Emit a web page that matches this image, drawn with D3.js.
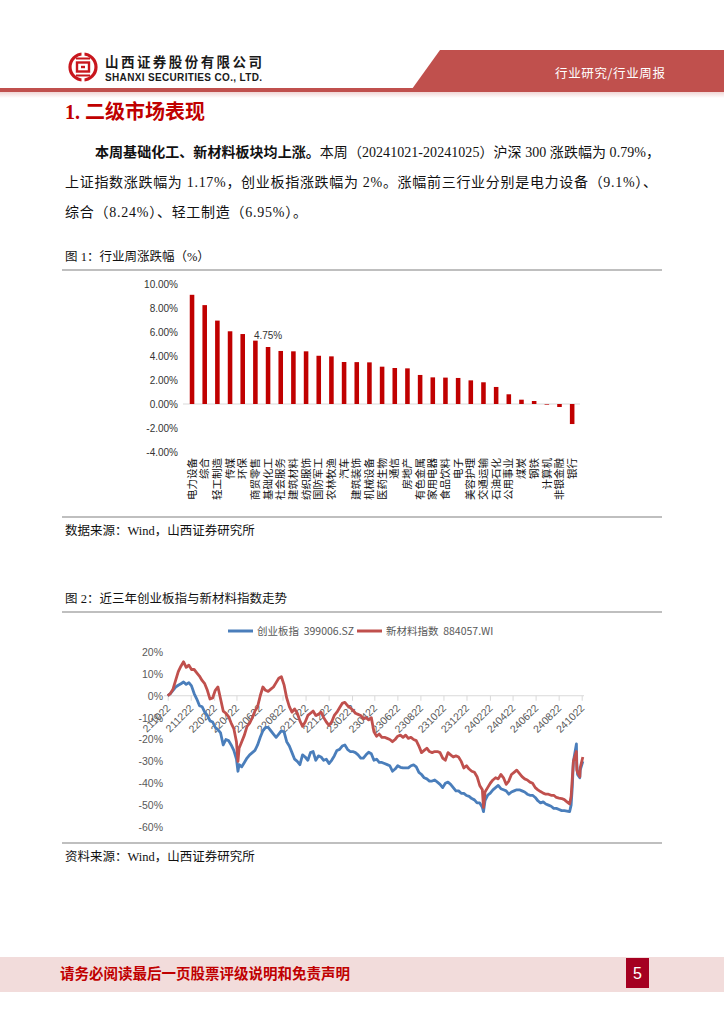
<!DOCTYPE html>
<html><head><meta charset="utf-8">
<script src="https://cdn.jsdelivr.net/npm/d3@7"></script>
<style>
body{margin:0;background:#fff;}
svg{display:block;}
</style></head><body>
<svg id="page" width="724" height="1024"></svg>
<script>
// ---------- DATA ----------
const barCategories = ["电力设备","综合","轻工制造","传媒","环保","商贸零售","基础化工","社会服务","建筑材料","纺织服饰","国防军工","农林牧渔","汽车","建筑装饰","机械设备","医药生物","通信","房地产","有色金属","家用电器","食品饮料","电子","美容护理","交通运输","石油石化","公用事业","煤炭","钢铁","计算机","非银金融","银行"];
const barValues = [9.10,8.24,6.95,6.06,5.83,5.28,4.75,4.42,4.39,4.39,4.02,3.97,3.50,3.49,3.47,3.11,3.00,2.97,2.42,2.22,2.20,2.17,1.97,1.81,1.42,0.81,0.36,0.25,-0.05,-0.25,-1.67];
const barLabelled = "基础化工";
const barYTicks = [10,8,6,4,2,0,-2,-4];

const lineDates = ["2021-10-22","2021-10-29","2021-11-05","2021-11-12","2021-11-19","2021-11-26","2021-12-03","2021-12-10","2021-12-17","2021-12-24","2021-12-31",
"2022-01-07","2022-01-14","2022-01-21","2022-01-28","2022-02-04","2022-02-11","2022-02-18","2022-02-25","2022-03-04","2022-03-11","2022-03-18","2022-03-25","2022-04-01","2022-04-08","2022-04-15","2022-04-22","2022-04-26","2022-04-29",
"2022-05-06","2022-05-13","2022-05-20","2022-05-27","2022-06-03","2022-06-10","2022-06-17","2022-06-24","2022-07-01","2022-07-08","2022-07-15","2022-07-22","2022-07-29","2022-08-05","2022-08-12","2022-08-19","2022-08-26","2022-09-02","2022-09-09","2022-09-16","2022-09-23","2022-09-30","2022-10-07","2022-10-14","2022-10-21","2022-10-28","2022-11-04","2022-11-11","2022-11-18","2022-11-25","2022-12-02","2022-12-09","2022-12-16","2022-12-23","2022-12-30",
"2023-01-06","2023-01-13","2023-01-20","2023-01-27","2023-02-03","2023-02-10","2023-02-17","2023-02-24","2023-03-03","2023-03-10","2023-03-17","2023-03-24","2023-03-31","2023-04-07","2023-04-14","2023-04-21","2023-04-28","2023-05-05","2023-05-12","2023-05-19","2023-05-26","2023-06-02","2023-06-09","2023-06-16","2023-06-23","2023-06-30","2023-07-07","2023-07-14","2023-07-21","2023-07-28","2023-08-04","2023-08-11","2023-08-18","2023-08-25","2023-09-01","2023-09-08","2023-09-15","2023-09-22","2023-09-29","2023-10-06","2023-10-13","2023-10-20","2023-10-27","2023-11-03","2023-11-10","2023-11-17","2023-11-24","2023-12-01","2023-12-08","2023-12-15","2023-12-22","2023-12-29",
"2024-01-05","2024-01-12","2024-01-19","2024-01-26","2024-02-02","2024-02-05","2024-02-09","2024-02-16","2024-02-23","2024-03-01","2024-03-08","2024-03-15","2024-03-22","2024-03-29","2024-04-05","2024-04-12","2024-04-19","2024-04-26","2024-05-03","2024-05-10","2024-05-17","2024-05-24","2024-05-31","2024-06-07","2024-06-14","2024-06-21","2024-06-28","2024-07-05","2024-07-12","2024-07-19","2024-07-26","2024-08-02","2024-08-09","2024-08-16","2024-08-23","2024-08-30","2024-09-06","2024-09-13","2024-09-20","2024-09-24","2024-09-27","2024-09-30","2024-10-08","2024-10-09","2024-10-11","2024-10-17","2024-10-18","2024-10-25"];

const chinextValues = [0,1,2.5,4,4.8,5.5,6.3,5.2,6.0,4.5,1.0,
-1.5,-4.5,-5,-7.5,-9,-11.5,-12,-14.5,-15.5,-17,-22.5,-20,-20.5,-22.5,-25,-29,-34.5,-31.5,
-32.5,-30.5,-28.5,-27,-26,-25,-22.5,-19,-16,-14.5,-14.5,-16,-17.5,-19,-17.5,-16,-16.5,-21,-23,-26,-29,-30,-31.5,-27,-28,-29.5,-26,-25.5,-29.5,-27.5,-28,-29.5,-29,-31,-29.5,
-27.5,-25,-24.5,-23,-22.5,-24.5,-25.5,-25.5,-26,-27,-28.5,-28.5,-27,-25.8,-26.5,-29.5,-29,-30.5,-30.5,-31,-31.5,-32,-34.5,-33.5,-32,-32.7,-33,-33,-33,-32,-31.6,-32.5,-35,-36,-37.5,-38,-39,-39,-38.5,-39.5,-40.5,-42,-40,-39.5,-40.5,-42,-43.5,-43.5,-44.6,-44.6,-45.6,-46,
-47,-47.6,-49,-49,-51,-53,-48,-45.5,-44.5,-43,-42,-41,-42.5,-43,-43.5,-45,-44,-43.5,-43,-43,-43.5,-44,-45,-45.5,-45.5,-46.5,-48,-49,-48.5,-49.5,-50,-50.5,-51.5,-51.5,-52,-52.5,-52.5,-52.7,-53,-50,-42,-30,-22,-31,-36,-37.5,-34,-30];

const newMaterialValues = [0,1,3,7,11,13.5,15.5,13,14,12,12,
10.5,9,7,5.5,2.5,-1.5,-1,2.5,4,-1.5,-7,-8,-9.5,-12.5,-15,-21,-30,-24,
-21,-18,-14,-12.5,-10,-7,-5,0,4,2.5,2,3,4,6,8,8.7,5,-1,-5,-7.5,-6,-8,-11.5,-14,-12,-9,-8,-7,-9,-8.5,-7.5,-10,-12,-13.5,-12,
-9,-7.5,-5.5,-3.5,-3,-4.5,-5.5,-6.5,-8,-8.5,-9,-10.5,-10,-11,-10,-16.5,-18.5,-17.5,-19,-19,-19.5,-20,-21,-20,-18.5,-18,-19,-18,-19.5,-19,-20,-20.5,-23,-26,-25,-24,-25.5,-26,-25.5,-25.5,-26,-28.5,-29.5,-26,-27,-28,-27.5,-28,-30,-33,-32,-33.5,
-34.5,-35,-37,-41,-43,-51,-44,-42,-40,-38.5,-37.5,-38,-36,-37.5,-40.5,-39,-36,-35,-34,-35.5,-37,-38,-38.5,-39.5,-40,-42,-43,-43.8,-44.5,-45,-45,-45.5,-45.5,-46.5,-46.8,-47,-47.5,-48.5,-49.5,-46,-38,-30,-25.5,-34,-35,-37,-33,-28];

const lineYTicks = [20,10,0,-10,-20,-30,-40,-50,-60];
const lineXTickLabels = ["211022","211222","220222","220422","220622","220822","221022","221222","230222","230422","230622","230822","231022","231222","240222","240422","240622","240822","241022"];
const seriesNames = ["创业板指  399006.SZ","新材料指数  884057.WI"];
const seriesColors = ["#4a7ebb","#c0504d"];

const paragraphLines = [
  {x:95, w:565, bold:"本周基础化工、新材料板块均上涨。", rest:"本周（20241021-20241025）沪深 300 涨跌幅为 0.79%，"},
  {x:65, w:592, bold:"", rest:"上证指数涨跌幅为 1.17%，创业板指涨跌幅为 2%。涨幅前三行业分别是电力设备（9.1%）、"},
  {x:65, w:242, bold:"", rest:"综合（8.24%）、轻工制造（6.95%）。"}
];

// ---------- PAGE ----------
const svg = d3.select("#page");
const serif = "'Liberation Serif','Times New Roman','Noto Sans CJK SC',serif";
const sans = "Arial,'Liberation Sans','Noto Sans CJK SC',sans-serif";
const cjk = "'Noto Sans CJK SC',sans-serif";

// header
const defs = svg.append("defs");
const grad = defs.append("linearGradient").attr("id","fade").attr("x1",0).attr("y1",0).attr("x2",0).attr("y2",1);
grad.append("stop").attr("offset","0%").attr("stop-color","#f0d6d5");
grad.append("stop").attr("offset","100%").attr("stop-color","#ffffff");

svg.append("polygon").attr("points","440,50 724,50 724,89 412,89").attr("fill","#c0504d");
svg.append("rect").attr("x",0).attr("y",88).attr("width",724).attr("height",4).attr("fill","#c0504d");
svg.append("rect").attr("x",0).attr("y",92).attr("width",724).attr("height",6).attr("fill","url(#fade)");
svg.append("text").attr("x",555).attr("y",78).attr("font-family",cjk).attr("font-size",12.5)
  .attr("fill","#fff").attr("textLength",110).text("行业研究/行业周报");

// logo
const logo = svg.append("g").attr("transform","translate(83,67)");
logo.append("circle").attr("r",13).attr("fill","none").attr("stroke","#c8161d").attr("stroke-width",3.2);
logo.append("rect").attr("x",-6).attr("y",-4.5).attr("width",12).attr("height",9).attr("fill","none").attr("stroke","#c8161d").attr("stroke-width",2.4);
logo.append("rect").attr("x",-2).attr("y",-1.2).attr("width",4).attr("height",2.4).attr("fill","#c8161d");
logo.append("line").attr("x1",-7).attr("x2",7).attr("y1",-8.5).attr("y2",-8.5).attr("stroke","#c8161d").attr("stroke-width",2);
logo.append("line").attr("x1",-7).attr("x2",7).attr("y1",8.5).attr("y2",8.5).attr("stroke","#c8161d").attr("stroke-width",2);
logo.append("rect").attr("x",-1.5).attr("y",-16).attr("width",3).attr("height",5).attr("fill","#fff");
logo.append("rect").attr("x",-1.5).attr("y",11).attr("width",3).attr("height",5).attr("fill","#fff");

svg.append("text").attr("x",105).attr("y",67).attr("font-family",cjk).attr("font-weight","bold")
  .attr("font-size",13.5).attr("fill","#1a1a1a").attr("textLength",157).text("山西证券股份有限公司");
svg.append("text").attr("x",105).attr("y",81).attr("font-family",sans).attr("font-weight","bold")
  .attr("font-size",10).attr("fill","#1a1a1a").attr("textLength",157).text("SHANXI SECURITIES CO., LTD.");

// section title
svg.append("text").attr("x",65).attr("y",119).attr("font-family",serif).attr("font-weight","bold")
  .attr("font-size",20).attr("fill","#c00000").text("1. 二级市场表现");

// paragraph
paragraphLines.forEach((ln,i)=>{
  const t = svg.append("text").attr("x",ln.x).attr("y",157+i*30).attr("font-family",serif)
    .attr("font-size",14).attr("fill","#111").attr("textLength",ln.w).attr("lengthAdjust","spacing");
  if (ln.bold) t.append("tspan").attr("font-weight","bold").text(ln.bold);
  t.append("tspan").text(ln.rest);
});

// figure frames
function figureFrame(title, top, bottom, source){
  svg.append("text").attr("x",65).attr("y",top-9).attr("font-family",serif).attr("font-size",12.5).attr("fill","#111").text(title);
  svg.append("line").attr("x1",62).attr("x2",662).attr("y1",top).attr("y2",top).attr("stroke","#808080").attr("stroke-width",1.2);
  svg.append("line").attr("x1",62).attr("x2",662).attr("y1",bottom).attr("y2",bottom).attr("stroke","#808080").attr("stroke-width",1.2);
  svg.append("text").attr("x",65).attr("y",bottom+18).attr("font-family",serif).attr("font-size",12.5).attr("fill","#111").text(source);
}
figureFrame("图 1：行业周涨跌幅（%）", 270, 517, "数据来源：Wind，山西证券研究所");
figureFrame("图 2：近三年创业板指与新材料指数走势", 612, 843, "资料来源：Wind，山西证券研究所");

// ---------- BAR CHART ----------
const xb = d3.scaleBand().domain(barCategories).range([185.7, 578.5]).paddingInner(0.64).paddingOuter(0.32);
const yb = d3.scaleLinear().domain([-4,10]).range([452,284]);
const gb = svg.append("g");
gb.append("line").attr("x1",183).attr("x2",580).attr("y1",yb(0)).attr("y2",yb(0)).attr("stroke","#d9d9d9").attr("stroke-width",1);
gb.selectAll("rect.bar").data(barCategories).join("rect").attr("class","bar")
  .attr("x",d=>xb(d)).attr("width",xb.bandwidth())
  .attr("y",(d,i)=>yb(Math.max(0,barValues[i])))
  .attr("height",(d,i)=>Math.abs(yb(barValues[i])-yb(0)))
  .attr("fill","#c00000");
const yAxisB = d3.axisLeft(yb).tickValues(barYTicks).tickSize(0).tickPadding(0).tickFormat(d=>d.toFixed(2)+"%");
const gya = gb.append("g").attr("transform","translate(178,0)").call(yAxisB);
gya.select(".domain").remove();
gya.selectAll("text").attr("font-family",sans).attr("font-size",10).attr("fill","#333");
const xAxisB = d3.axisBottom(xb).tickSize(0).tickPadding(0);
const gxa = gb.append("g").attr("transform","translate(0,0)").call(xAxisB);
gxa.select(".domain").remove();
gxa.selectAll(".tick text").attr("transform","translate(0,458) rotate(-90)").attr("text-anchor","end")
  .attr("x",0).attr("y",0).attr("dy","0.35em").attr("font-family",cjk).attr("font-size",10.5).attr("fill","#111");
const li = barCategories.indexOf(barLabelled);
gb.append("text").attr("x",xb(barLabelled)+xb.bandwidth()/2).attr("y",yb(barValues[li])-8)
  .attr("text-anchor","middle").attr("font-family",sans).attr("font-size",10).attr("fill","#333")
  .text(barValues[li].toFixed(2)+"%");

// ---------- LINE CHART ----------
const parse = d3.timeParse("%Y-%m-%d");
const parseTick = d3.timeParse("%y%m%d");
const dates = lineDates.map(parse);
const xl = d3.scaleTime().domain([parse("2021-10-22"), parse("2024-10-22")]).range([167.7,581.7]);
const yl = d3.scaleLinear().domain([-60,20]).range([827,652]);
const gl = svg.append("g");

gl.append("line").attr("x1",164).attr("x2",584).attr("y1",yl(0)).attr("y2",yl(0)).attr("stroke","#d9d9d9").attr("stroke-width",1);
const tickDates = lineXTickLabels.map(parseTick);
const xAxisL = d3.axisBottom(xl).tickValues(tickDates).tickSize(5).tickFormat(d3.timeFormat("%y%m%d"));
const gxl = gl.append("g").attr("transform",`translate(0,${yl(0)})`).call(xAxisL);
gxl.select(".domain").remove();
gxl.selectAll(".tick line").attr("stroke","#d9d9d9");
gxl.selectAll(".tick text").attr("text-anchor","end").attr("font-family",sans).attr("font-size",10.5)
  .attr("fill","#595959").attr("y",0).attr("dy",0).attr("transform","translate(3,13) rotate(-45)");

const yAxisL = d3.axisLeft(yl).tickValues(lineYTicks).tickSize(0).tickPadding(0).tickFormat(d=>d+"%");
const gyl = gl.append("g").attr("transform","translate(163,0)").call(yAxisL);
gyl.select(".domain").remove();
gyl.selectAll("text").attr("font-family",sans).attr("font-size",10.5).attr("fill","#595959");

const line = d3.line().x(d=>xl(d[0])).y(d=>yl(d[1]));
[chinextValues, newMaterialValues].forEach((vals,si)=>{
  gl.append("path").datum(dates.map((d,i)=>[d,vals[i]])).attr("d",line)
    .attr("fill","none").attr("stroke",seriesColors[si]).attr("stroke-width",2.8).attr("stroke-linejoin","round");
});

// legend
const legX = [228,357];
seriesNames.forEach((n,i)=>{
  gl.append("line").attr("x1",legX[i]).attr("x2",legX[i]+25).attr("y1",631).attr("y2",631)
    .attr("stroke",seriesColors[i]).attr("stroke-width",3);
  gl.append("text").attr("x",legX[i]+29).attr("y",631).attr("dy","0.35em").attr("font-family",cjk)
    .attr("font-size",10.5).attr("fill","#595959").style("white-space","pre").text(n);
});

// ---------- FOOTER ----------
svg.append("rect").attr("x",0).attr("y",957).attr("width",724).attr("height",35).attr("fill","#f2dcdb");
svg.append("text").attr("x",60).attr("y",979).attr("font-family",cjk).attr("font-weight","bold")
  .attr("font-size",14.5).attr("fill","#c00000").text("请务必阅读最后一页股票评级说明和免责声明");
svg.append("rect").attr("x",626).attr("y",958).attr("width",23).attr("height",30).attr("fill","#a50021");
svg.append("text").attr("x",637.5).attr("y",979).attr("text-anchor","middle").attr("font-family",sans)
  .attr("font-size",16).attr("fill","#fff").text("5");
</script>
</body></html>
